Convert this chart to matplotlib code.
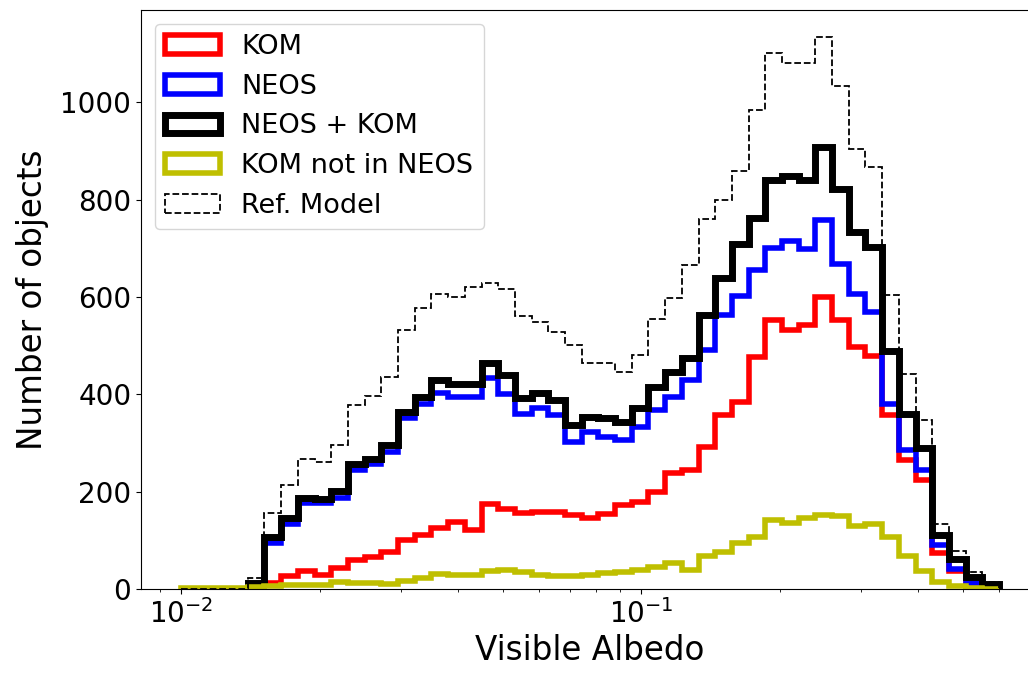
import numpy as np
import matplotlib
matplotlib.use("Agg")
import matplotlib.pyplot as plt

# log bins, 0.01 .. 0.6
bin_edges = np.logspace(-2, np.log10(0.6), 50)

kom = [0, 0, 0, 0, 2, 12, 27, 38, 28, 44,
       60, 66, 77, 101, 111, 125, 138, 121, 175, 164,
       157, 159, 159, 152, 145, 155, 173, 179, 200, 238,
       245, 292, 358, 384, 477, 552, 532, 543, 600, 553,
       498, 479, 357, 265, 224, 73, 36, 10, 3]
neos = [0, 0, 0, 0, 8, 95, 134, 177, 177, 187,
        244, 256, 282, 351, 380, 403, 395, 395, 433, 400,
        359, 371, 358, 303, 323, 313, 306, 333, 368, 395,
        429, 491, 563, 603, 656, 701, 716, 698, 758, 667,
        606, 570, 381, 286, 245, 90, 42, 12, 5]
neos_kom = [0, 0, 0, 0, 12, 106, 145, 188, 186, 201,
            256, 268, 296, 364, 395, 429, 421, 421, 464, 440,
            393, 402, 388, 337, 354, 351, 344, 371, 416, 446,
            474, 563, 640, 710, 762, 841, 849, 841, 909, 822,
            733, 702, 490, 360, 290, 110, 62, 25, 10]
kom_not_neos = [2, 2, 3, 3, 4, 6, 8, 8, 9, 14,
                12, 12, 10, 17, 22, 30, 28, 28, 38, 40,
                35, 28, 26, 27, 28, 33, 35, 40, 46, 53,
                40, 67, 77, 94, 106, 142, 136, 146, 152, 150,
                130, 134, 106, 67, 36, 14, 6, 3, 1]
ref_model = [0, 0, 0, 0, 22, 156, 213, 268, 261, 295,
             378, 397, 436, 532, 577, 607, 601, 621, 628, 616,
             561, 549, 529, 501, 465, 465, 446, 481, 554, 598,
             665, 760, 800, 860, 985, 1101, 1082, 1082, 1135, 1033,
             905, 868, 604, 441, 348, 134, 78, 34, 15]

fig = plt.figure(figsize=(10.28, 6.82), dpi=100)
ax = fig.add_axes([141 / 1028, 93 / 682, 898 / 1028, 579 / 682])

centers = np.sqrt(bin_edges[:-1] * bin_edges[1:])
ax.hist(centers, bins=bin_edges, weights=kom, histtype="step", color="red", lw=4, label="KOM")
ax.hist(centers, bins=bin_edges, weights=neos, histtype="step", color="blue", lw=4, label="NEOS")
ax.hist(centers, bins=bin_edges, weights=neos_kom, histtype="step", color="black", lw=5, label="NEOS + KOM")
ax.hist(centers, bins=bin_edges, weights=kom_not_neos, histtype="step", color="y", lw=4,
        label="KOM not in NEOS")
ax.hist(centers, bins=bin_edges, weights=ref_model, histtype="step", color="black", lw=1.3, ls="--",
        label="Ref. Model")

ax.set_xscale("log")
ax.set_xlim(10 ** -2.087, 10 ** -0.135)
ax.set_ylim(0, 1190)
ax.set_yticks([0, 200, 400, 600, 800, 1000])
ax.tick_params(labelsize=20)
ax.set_xlabel("Visible Albedo", fontsize=23.5)
ax.set_ylabel("Number of objects", fontsize=23.5, labelpad=8)
ax.legend(loc="upper left", fontsize=19.5)

fig.savefig("out.png", dpi=100)
